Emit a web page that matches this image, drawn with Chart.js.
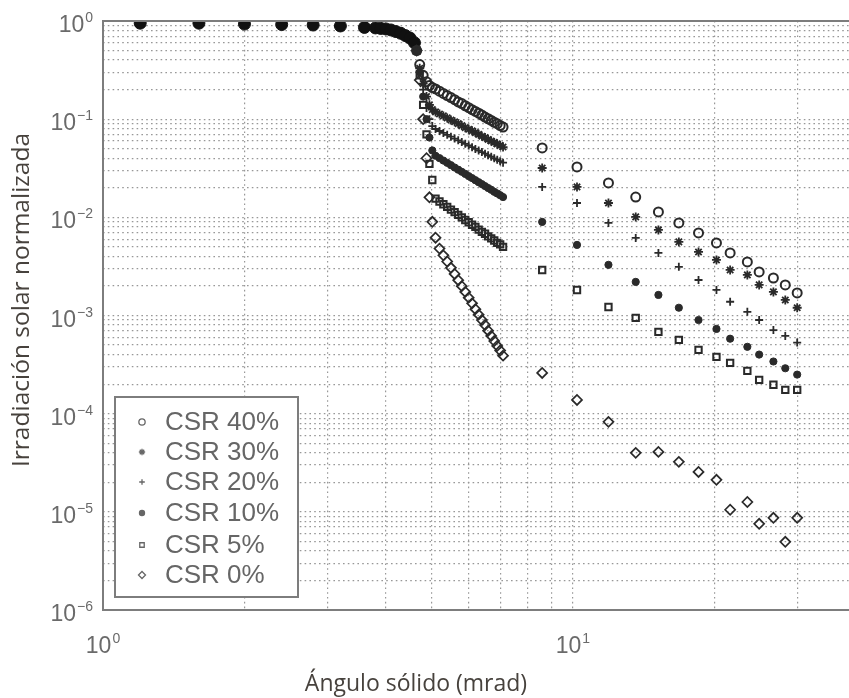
<!DOCTYPE html>
<html>
<head>
<meta charset="utf-8">
<script src="https://cdn.jsdelivr.net/npm/chart.js@4.4.0/dist/chart.umd.min.js"></script>
<style>
  html, body { margin: 0; padding: 0; background: #fff; overflow: hidden; }
</style>
</head>
<body>
<canvas id="myChart" width="849" height="698"></canvas>
<script>
// disco solar: todas las curvas coinciden aquí
const sunAngle = [1.2, 1.6, 2.0, 2.4, 2.8, 3.2, 3.6, 3.8, 3.9, 4.0, 4.1, 4.2, 4.3, 4.4, 4.5, 4.6];
const sunIrr = [0.95, 0.95, 0.93, 0.92, 0.91, 0.89, 0.86, 0.85, 0.84, 0.83, 0.81, 0.78, 0.75, 0.71, 0.67, 0.6];

// borde del disco, aureola y puntos lejanos (mrad)
const tailAngle = [4.65, 4.72, 4.8, 4.88, 4.95, 5.02,
  5.1, 5.2, 5.3, 5.4, 5.5, 5.6, 5.7, 5.8, 5.9, 6.0, 6.1, 6.2, 6.3, 6.4, 6.5, 6.6, 6.7, 6.8, 6.9, 7.0, 7.1,
  8.6, 10.2, 11.9, 13.6, 15.2, 16.8, 18.5, 20.2, 21.6, 23.5, 24.9, 26.7, 28.3, 30.0];

const csr40 = [0.5, 0.36, 0.28, 0.24, 0.22, 0.21,
  0.203, 0.193, 0.183, 0.174, 0.166, 0.158, 0.150, 0.144, 0.137, 0.131, 0.125, 0.120, 0.115, 0.110, 0.105,
  0.101, 0.097, 0.093, 0.090, 0.086, 0.083,
  0.0509, 0.0326, 0.0224, 0.0161, 0.01135, 0.00877, 0.00694, 0.00549, 0.00434, 0.00351, 0.00278, 0.00241, 0.00205, 0.00170];
const csr30 = [0.5, 0.33, 0.23, 0.17, 0.14, 0.125,
  0.1185, 0.113, 0.108, 0.103, 0.098, 0.094, 0.090, 0.086, 0.082, 0.079, 0.076, 0.073, 0.070, 0.067, 0.065,
  0.062, 0.060, 0.058, 0.056, 0.054, 0.052,
  0.0318, 0.0204, 0.0140, 0.0101, 0.00744, 0.00562, 0.00444, 0.00368, 0.00291, 0.00259, 0.00205, 0.00174, 0.00144, 0.00120];
const csr20 = [0.5, 0.31, 0.2, 0.13, 0.1, 0.085,
  0.0794, 0.0758, 0.0725, 0.0693, 0.0663, 0.0635, 0.0609, 0.0584, 0.0561, 0.0539, 0.0518, 0.0498, 0.0479, 0.0462, 0.0445,
  0.0429, 0.0414, 0.0399, 0.0386, 0.0373, 0.0360,
  0.0204, 0.0140, 0.00877, 0.00617, 0.00434, 0.00313, 0.00230, 0.00182, 0.00138, 0.00109, 0.00090, 0.00071, 0.00062, 0.00053];
const csr10 = [0.5, 0.3, 0.17, 0.1, 0.065, 0.048,
  0.0424, 0.0401, 0.0379, 0.0359, 0.0340, 0.0322, 0.0306, 0.0291, 0.0277, 0.0263, 0.0251, 0.0239, 0.0228, 0.0218, 0.0208,
  0.0199, 0.0191, 0.0182, 0.0175, 0.0168, 0.0161,
  0.00898, 0.00524, 0.00328, 0.00220, 0.00162, 0.00120, 0.00090, 0.00073, 0.00058, 0.00048, 0.00040, 0.00034, 0.00029, 0.00025];
const csr5 = [0.5, 0.28, 0.14, 0.07, 0.035, 0.024,
  0.0155, 0.0145, 0.0136, 0.0128, 0.0120, 0.0113, 0.0106, 0.0100, 0.0094, 0.0089, 0.0084, 0.0080, 0.0075, 0.0071, 0.0068,
  0.0064, 0.0061, 0.0058, 0.0055, 0.0053, 0.0050,
  0.00291, 0.00182, 0.00122, 0.000945, 0.000681, 0.000564, 0.000446, 0.000379, 0.000329, 0.000273, 0.000221, 0.000197, 0.000175, 0.000175];
const csr0 = [0.5, 0.25, 0.1, 0.04, 0.016, 0.009,
  0.0062, 0.0048, 0.0041, 0.00355, 0.00306, 0.00265, 0.00229, 0.00199, 0.00174, 0.00152, 0.00133, 0.00116, 0.00102, 0.00090, 0.00080,
  0.00070, 0.00062, 0.00055, 0.00049, 0.00044, 0.00039,
  0.00026, 0.000138, 0.0000825, 0.0000399, 0.0000408, 0.0000323, 0.0000255, 0.0000212, 0.0000105, 0.0000126, 0.00000755, 0.00000869, 0.00000495, 0.00000869];

const seriesLabels = ['CSR 40%', 'CSR 30%', 'CSR 20%', 'CSR 10%', 'CSR 5%', 'CSR 0%'];

// exponentes de las etiquetas de los ejes
const xTickExp = [0, 1];
const yTickExp = [0, -1, -2, -3, -4, -5, -6];
const minorSteps = [1, 2, 3, 4, 5, 6, 7, 8, 9];

const ink = '#2a2a2a';
const styles = [
  { pointStyle: 'circle', radius: 4.5, borderWidth: 2, fill: false },
  { pointStyle: 'star', radius: 4.5, borderWidth: 1.8, fill: false },
  { pointStyle: 'cross', radius: 4, borderWidth: 1.8, fill: false },
  { pointStyle: 'circle', radius: 3.6, borderWidth: 1, fill: true },
  { pointStyle: 'rect', radius: 4.5, borderWidth: 2, fill: false },
  { pointStyle: 'rectRot', radius: 5, borderWidth: 1.7, fill: false }
];
const allValues = [csr40, csr30, csr20, csr10, csr5, csr0];

function pts(xs, ys) {
  return xs.map((x, i) => ({ x: x, y: ys[i] }));
}

const datasets = allValues.map((vals, i) => ({
  label: seriesLabels[i],
  data: pts(tailAngle, vals),
  showLine: false,
  pointStyle: styles[i].pointStyle,
  pointRadius: styles[i].radius,
  pointBorderWidth: styles[i].borderWidth,
  borderColor: ink,
  backgroundColor: styles[i].fill ? ink : 'rgba(0,0,0,0)'
}));

datasets.push({
  label: 'disco',
  data: pts(sunAngle, sunIrr),
  showLine: false,
  pointStyle: 'circle',
  pointRadius: 6,
  borderColor: '#111',
  backgroundColor: '#111'
});

// rejilla logarítmica 1..9 por década
function logTicks(axis) {
  const out = [];
  const e0 = Math.floor(Math.log10(axis.min));
  const e1 = Math.ceil(Math.log10(axis.max));
  for (let e = e0; e <= e1; e++) {
    minorSteps.forEach(k => {
      const v = k * Math.pow(10, e);
      if (v >= axis.min * 0.999 && v <= axis.max * 1.001) out.push({ value: v, major: k === 1 });
    });
  }
  axis.ticks = out;
}

const numFont = '"Liberation Sans", Arial, sans-serif';

function drawPow(ctx, x, base, exp, align) {
  const e = exp < 0 ? '\u2212' + (-exp) : String(exp);
  ctx.font = '23px ' + numFont;
  const w1 = ctx.measureText('10').width;
  ctx.font = '14px ' + numFont;
  const w2 = ctx.measureText(e).width;
  const total = w1 + 1 + w2;
  const left = align === 'right' ? x - total : x - total / 2;
  ctx.textAlign = 'left';
  ctx.textBaseline = 'alphabetic';
  ctx.font = '23px ' + numFont;
  ctx.fillText('10', left, base);
  ctx.font = '14px ' + numFont;
  ctx.fillText(e, left + w1 + 1, base - 10);
}

const decor = {
  id: 'decor',
  afterDraw(chart) {
    const ctx = chart.ctx;
    const a = chart.chartArea;
    const xs = chart.scales.x, ys = chart.scales.y;
    ctx.save();

    // marco
    ctx.strokeStyle = '#7d7d7d';
    ctx.lineWidth = 2;
    ctx.beginPath();
    ctx.moveTo(a.right, a.top);
    ctx.lineTo(a.left, a.top);
    ctx.lineTo(a.left, a.bottom);
    ctx.lineTo(a.right, a.bottom);
    ctx.stroke();

    // etiquetas de los ejes
    ctx.fillStyle = '#6a6a6a';
    yTickExp.forEach(e => drawPow(ctx, 93, ys.getPixelForValue(Math.pow(10, e)) + 11, e, 'right'));
    xTickExp.forEach(e => drawPow(ctx, xs.getPixelForValue(Math.pow(10, e)), 653, e, 'center'));

    // títulos
    ctx.fillStyle = '#47423d';
    ctx.font = '23px "Open Sans", sans-serif';
    ctx.textAlign = 'center';
    ctx.textBaseline = 'middle';
    ctx.fillText('Ángulo sólido (mrad)', 416, 684);
    ctx.save();
    ctx.translate(22, 300);
    ctx.rotate(-Math.PI / 2);
    ctx.font = '24.5px "Open Sans", sans-serif';
    ctx.fillText('Irradiación solar normalizada', 0, 0);
    ctx.restore();

    // leyenda
    ctx.fillStyle = '#fff';
    ctx.fillRect(115, 397, 183, 200);
    ctx.strokeStyle = '#7d7d7d';
    ctx.lineWidth = 2;
    ctx.strokeRect(115, 397, 183, 200);
    const rowY = [422, 452, 482, 513, 545, 575];
    seriesLabels.forEach((lab, i) => {
      const st = styles[i];
      ctx.strokeStyle = '#666';
      ctx.fillStyle = st.fill ? '#666' : 'rgba(0,0,0,0)';
      ctx.lineWidth = 1.3;
      Chart.helpers.drawPoint(ctx, {
        pointStyle: st.pointStyle,
        radius: st.radius * 0.7,
        borderWidth: 1.3,
        rotation: 0
      }, 142, rowY[i]);
      ctx.fillStyle = '#666';
      ctx.font = '26px ' + numFont;
      ctx.textAlign = 'left';
      ctx.textBaseline = 'middle';
      ctx.fillText(lab, 165, rowY[i] + 1);
    });
    ctx.restore();
  }
};

const gridOpts = { color: '#989898', lineWidth: 1.2, drawTicks: false };

new Chart(document.getElementById('myChart'), {
  type: 'scatter',
  data: { datasets: datasets },
  options: {
    responsive: false,
    animation: false,
    devicePixelRatio: 1,
    layout: { autoPadding: false, padding: { left: 103, top: 21, right: 0, bottom: 88 } },
    plugins: { legend: { display: false }, tooltip: { enabled: false } },
    scales: {
      x: {
        type: 'logarithmic',
        min: 1,
        max: 38.67,
        afterBuildTicks: logTicks,
        ticks: { display: false },
        grid: gridOpts,
        border: { display: false, dash: [1.6, 3.2] }
      },
      y: {
        type: 'logarithmic',
        min: 1e-6,
        max: 1,
        afterBuildTicks: logTicks,
        ticks: { display: false },
        grid: gridOpts,
        border: { display: false, dash: [1.6, 3.2] }
      }
    }
  },
  plugins: [decor]
});
</script>
</body>
</html>
